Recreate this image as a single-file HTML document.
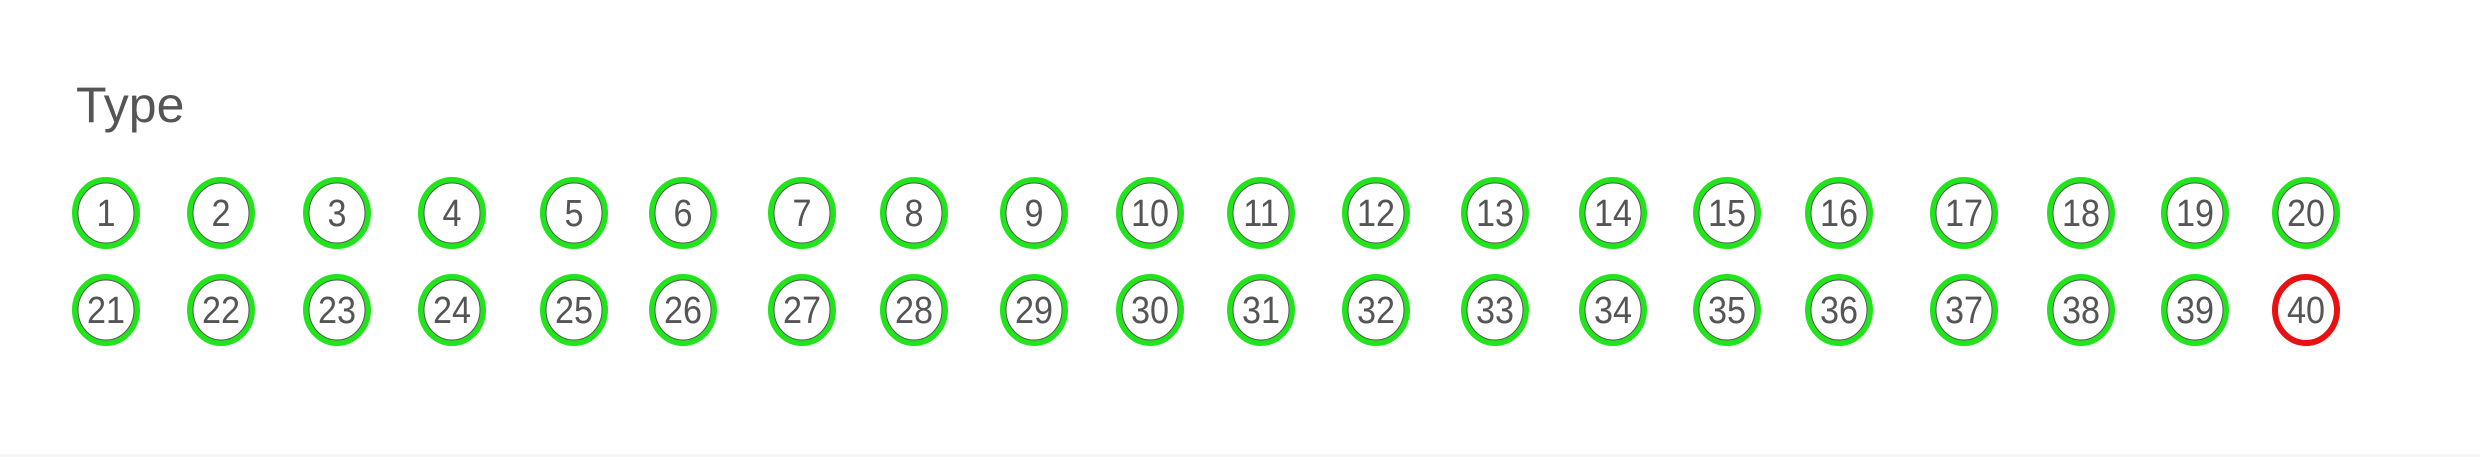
<!DOCTYPE html>
<html><head><meta charset="utf-8"><style>
html,body{margin:0;padding:0;background:#fff;}
body{width:2480px;height:457px;overflow:hidden;position:relative;font-family:"Liberation Sans",sans-serif;}
</style></head><body>
<svg width="2480" height="457" xmlns="http://www.w3.org/2000/svg">
<text x="76" y="122" font-size="50" fill="#555" font-family="Liberation Sans, sans-serif">Type</text>
<rect x="0" y="454" width="2480" height="3" fill="#f5f5f5"/>
<g id="marks"></g>
</svg>
<script>
const labels = [];
for (let i = 1; i <= 40; i++) labels.push(String(i));
const statuses = ["ok","ok","ok","ok","ok","ok","ok","ok","ok","ok","ok","ok","ok","ok","ok","ok","ok","ok","ok","ok",
"ok","ok","ok","ok","ok","ok","ok","ok","ok","ok","ok","ok","ok","ok","ok","ok","ok","ok","ok","fail"];
const colX = [106,221,337,452,574,683,802,914,1034,1150,1261,1376,1495,1613,1727,1839,1964,2081,2195,2306];
const rowY = [213,310];
const g = document.getElementById('marks');
const NS = "http://www.w3.org/2000/svg";
labels.forEach((lab, i) => {
  const cx = colX[i % 20], cy = rowY[Math.floor(i / 20)];
  const grp = document.createElementNS(NS, 'g');
  
  
  const inner = document.createElementNS(NS, 'ellipse');
  inner.setAttribute('cx', cx); inner.setAttribute('cy', cy);
  inner.setAttribute('rx', 31); inner.setAttribute('ry', 33);
  inner.setAttribute('fill', '#fff');
  inner.setAttribute('stroke', statuses[i] === 'fail' ? '#e81010' : '#22e41c');
  inner.setAttribute('stroke-width', 6);
  
  
  grp.appendChild(inner);
  const edge = document.createElementNS(NS, 'ellipse');
  edge.setAttribute('cx', cx); edge.setAttribute('cy', cy);
  edge.setAttribute('rx', 28); edge.setAttribute('ry', 30);
  edge.setAttribute('fill', 'none');
  edge.setAttribute('stroke', statuses[i] === 'fail' ? 'none' : '#555');
  edge.setAttribute('stroke-width', 1);
  
  
  grp.appendChild(edge);
  const t = document.createElementNS(NS, 'text');
  t.setAttribute('x', 0); t.setAttribute('y', 0);
  t.setAttribute('transform', 'translate(' + cx + ',' + (cy + 13) + ') scale(0.9,1)');
  t.setAttribute('text-anchor', 'middle');
  t.setAttribute('font-size', 38);
  t.setAttribute('fill', '#555');
  t.setAttribute('font-family', 'Liberation Sans, sans-serif');
  
  
  t.textContent = lab;
  grp.appendChild(t);
  g.appendChild(grp);
});
</script>
</body></html>
